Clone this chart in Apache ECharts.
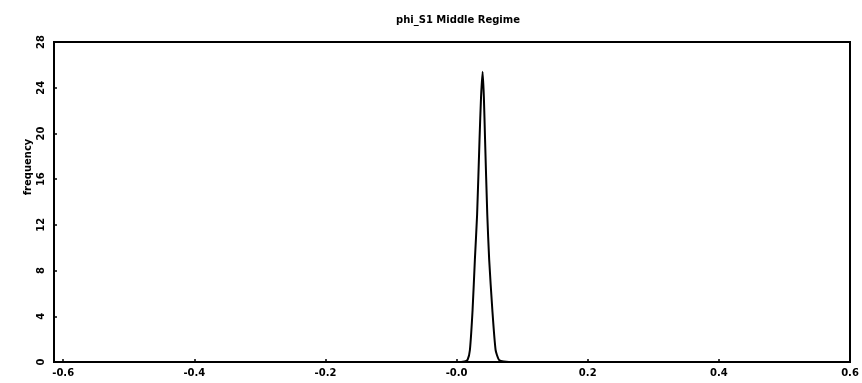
<!DOCTYPE html>
<html><head><meta charset="utf-8">
<script src="https://cdn.jsdelivr.net/npm/echarts@6/dist/echarts.min.js"></script>
<style>html,body{margin:0;padding:0;background:#fff}#c{width:862px;height:383px}</style>
</head><body><div id="c"></div>
<script>
const titleText = "phi_S1 Middle Regime";
const yName = "frequency";
const xTicks = [-0.6, -0.4, -0.2, 0.0, 0.2, 0.4, 0.6];
const xTickLabels = ["-0.6", "-0.4", "-0.2", "-0.0", "0.2", "0.4", "0.6"];
const yTicks = [0, 4, 8, 12, 16, 20, 24, 28];
const xVals = [-0.02, 0.0, 0.012, 0.0168, 0.0203, 0.0244, 0.0279, 0.0313, 0.035, 0.0373, 0.0397, 0.0416, 0.0434, 0.0468, 0.0497, 0.0545, 0.0595, 0.0645, 0.072, 0.09, 0.11];
const density = [0, 0, 0.05, 0.2, 1.05, 4.57, 8.96, 12.9, 19.5, 23.2, 25.4, 23.2, 19.5, 12.9, 8.96, 4.57, 1.05, 0.2, 0.05, 0, 0];

const chart = echarts.init(document.getElementById('c'));
const font = "DejaVu Sans";
chart.setOption({
  animation: false,
  title: { text: titleText, left: 453, top: 10, textAlign: 'center',
    textStyle: { fontFamily: font, fontSize: 10, fontWeight: 'bold', color: '#000' } },
  grid: { left: 54, right: 12, top: 42, bottom: 21, show: true, borderColor: '#000', borderWidth: 2 },
  xAxis: {
    type: 'value', min: -0.614, max: 0.6,
    axisLine: { show: true, onZero: false, lineStyle: { color: '#000', width: 2 } },
    splitLine: { show: false },
    axisTick: { show: true, inside: true, length: 3, customValues: xTicks, lineStyle: { color: '#000', width: 1.5 } },
    axisLabel: { customValues: xTicks, margin: 6, fontFamily: font, fontSize: 10, fontWeight: 'bold', color: '#000',
      formatter: v => { const i = xTicks.findIndex(t => Math.abs(t - v) < 1e-6); return i >= 0 ? xTickLabels[i] : ''; } }
  },
  yAxis: {
    type: 'value', min: 0, max: 28, interval: 4,
    name: yName, nameLocation: 'middle', nameGap: 21, nameRotate: 90, nameMoveOverlap: false,
    nameTextStyle: { fontFamily: font, fontSize: 10, fontWeight: 'bold', color: '#000', padding: [0, 0, 0, 70] },
    axisLine: { show: true, onZero: false, lineStyle: { color: '#000', width: 2 } },
    splitLine: { show: false },
    axisTick: { show: true, inside: true, length: 3, lineStyle: { color: '#000', width: 1.5 } },
    axisLabel: { rotate: 90, margin: 8, fontFamily: font, fontSize: 10, fontWeight: 'bold', color: '#000' }
  },
  series: [{
    type: 'line', showSymbol: false, smooth: 0.2,
    data: xVals.map((x, i) => [x, density[i]]),
    lineStyle: { color: '#000', width: 2 }
  }]
});
</script></body></html>
